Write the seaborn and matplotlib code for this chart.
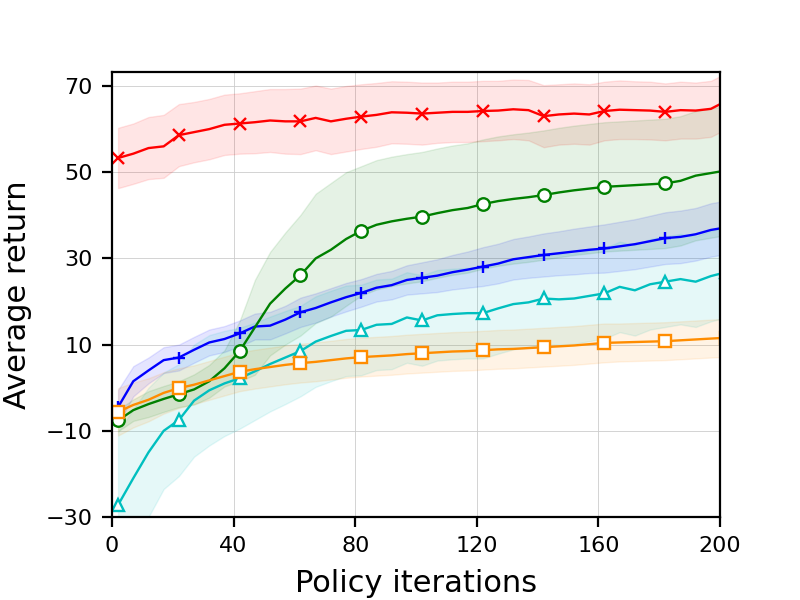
import matplotlib
matplotlib.use("Agg")
import matplotlib.pyplot as plt
import seaborn as sns
import numpy as np
import pandas as pd

# sample positions (policy iterations)
iters = list(range(2, 203, 5))

red_mean = [53.3, 54.3, 55.6, 56.0, 58.6, 59.3, 60.0, 61.0, 61.3, 61.6, 62.0,
            61.8, 61.8, 62.6, 61.8, 62.4, 62.9, 63.3, 63.9, 63.8, 63.6, 63.8,
            64.0, 64.0, 64.2, 64.3, 64.6, 64.4, 63.0, 63.4, 63.6, 63.4, 64.2,
            64.5, 64.4, 64.3, 64.0, 64.4, 64.3, 64.7, 66.5]
red_std = [7.0, 7.0, 7.2, 7.3, 7.2, 7.0, 7.0, 7.0, 7.0, 7.2, 7.3,
           7.5, 7.6, 7.5, 7.6, 7.6, 7.5, 7.4, 7.2, 7.2, 7.2, 7.0,
           7.0, 7.0, 7.0, 6.9, 6.9, 7.0, 7.2, 7.0, 7.0, 7.0, 6.8,
           6.8, 6.7, 6.7, 6.6, 6.6, 6.5, 6.5, 6.5]

green_mean = [-7.6, -5.2, -3.8, -2.6, -1.5, -0.4, 1.5, 4.5, 8.5, 14.0, 19.5,
              23.0, 26.1, 30.0, 32.0, 34.5, 36.4, 37.8, 38.6, 39.2, 39.7, 40.5,
              41.2, 41.7, 42.6, 43.3, 43.8, 44.2, 44.7, 45.3, 45.8, 46.2, 46.6,
              46.8, 47.0, 47.2, 47.4, 48.0, 49.2, 49.8, 50.4]
green_std = [2.5, 2.5, 3.0, 3.0, 3.0, 3.5, 3.8, 4.2, 7.0, 11.0, 12.0,
             13.0, 14.0, 15.0, 15.5, 15.5, 15.0, 15.0, 15.0, 15.0, 15.0, 15.0,
             15.0, 15.0, 15.0, 15.0, 15.0, 15.0, 15.0, 15.0, 15.0, 15.0, 15.0,
             15.0, 15.0, 15.0, 15.0, 15.0, 15.0, 15.0, 15.0]

blue_mean = [-4.5, 1.5, 4.0, 6.4, 7.0, 8.8, 10.5, 11.3, 12.6, 14.2, 14.4,
             15.8, 17.5, 18.5, 19.8, 21.0, 22.0, 23.2, 23.8, 25.0, 25.5, 26.0,
             26.8, 27.4, 28.1, 28.8, 29.8, 30.3, 30.8, 31.2, 31.6, 32.0, 32.3,
             32.8, 33.3, 34.0, 34.7, 35.0, 35.6, 36.6, 37.2]
blue_std = [4.0, 3.5, 3.0, 3.0, 3.0, 3.0, 3.0, 3.0, 3.0, 3.0, 3.2,
            3.2, 3.4, 3.4, 3.3, 3.3, 3.2, 3.2, 3.3, 3.4, 3.6, 3.8,
            4.0, 4.2, 4.5, 4.6, 4.7, 4.8, 5.0, 5.1, 5.3, 5.4, 5.6,
            5.7, 5.8, 5.9, 6.0, 6.1, 6.1, 6.2, 6.2]

cyan_mean = [-27.2, -21.0, -15.0, -10.0, -7.5, -3.0, -0.6, 1.0, 2.2, 3.8, 5.5,
             7.0, 8.5, 10.7, 12.0, 13.2, 13.4, 14.6, 14.8, 16.3, 15.6, 16.8,
             17.1, 17.3, 17.3, 18.4, 19.4, 19.8, 20.7, 20.5, 20.7, 21.3, 21.9,
             23.4, 22.6, 24.0, 24.6, 25.2, 24.6, 25.9, 26.8]
cyan_std = [17.0, 16.0, 15.0, 13.5, 13.0, 13.0, 12.8, 12.2, 11.7, 11.3, 11.0,
            10.8, 10.5, 10.5, 10.5, 10.5, 10.5, 10.5, 10.5, 10.5, 10.5, 10.5,
            10.5, 10.5, 10.5, 10.5, 10.5, 10.5, 10.5, 10.5, 10.5, 10.5, 10.5,
            10.5, 10.5, 10.5, 10.5, 10.5, 10.5, 10.5, 10.5]

orange_mean = [-5.6, -4.0, -2.8, -1.2, -0.1, 0.7, 1.7, 2.7, 3.7, 4.3, 4.8,
               5.3, 5.7, 6.0, 6.4, 6.8, 7.1, 7.3, 7.5, 7.8, 8.0, 8.2,
               8.4, 8.5, 8.7, 8.9, 9.0, 9.2, 9.4, 9.6, 9.8, 10.1, 10.4,
               10.5, 10.6, 10.7, 10.8, 11.0, 11.2, 11.4, 11.6]
orange_std = [5.5, 5.2, 5.0, 4.8, 4.6, 4.5, 4.5, 4.5, 4.5, 4.5, 4.5,
              4.5, 4.5, 4.5, 4.5, 4.5, 4.5, 4.5, 4.5, 4.5, 4.5, 4.5,
              4.5, 4.5, 4.5, 4.5, 4.5, 4.5, 4.5, 4.5, 4.5, 4.5, 4.5,
              4.4, 4.4, 4.4, 4.4, 4.4, 4.4, 4.4, 4.4]

x_ticks = [0, 40, 80, 120, 160, 200]
y_ticks = [-30, -10, 10, 30, 50, 70]

series = [
    ("red", red_mean, red_std, "#ff0000", "x", "#ff0000"),
    ("blue", blue_mean, blue_std, "#0000ff", "+", "#0000ff"),
    ("green", green_mean, green_std, "#008000", "o", "white"),
    ("cyan", cyan_mean, cyan_std, "#00bfbf", "^", "white"),
    ("orange", orange_mean, orange_std, "#ff8c00", "s", "white"),
]

sns.set_theme(style="whitegrid")
plt.rcParams['font.family'] = ['DejaVu Sans']

fig = plt.figure(figsize=(8, 6), dpi=100)
ax = fig.add_axes([0.14, 0.1383, 0.76, 0.7417])

for name, mean, std, col, mk, mfc in series:
    m = np.array(mean)
    s = np.array(std)
    ax.fill_between(iters, m - s, m + s, color=col, alpha=0.1, linewidth=1)
    df = pd.DataFrame({"it": iters, "val": mean})
    sns.lineplot(data=df, x="it", y="val", ax=ax, color=col, linewidth=1.7,
                 marker=mk, markersize=9, markevery=4, markerfacecolor=mfc,
                 markeredgecolor=col, markeredgewidth=1.7)

ax.set_xlim(0, 200)
ax.set_ylim(-30, 73.25)
ax.set_xticks(x_ticks)
ax.set_yticks(y_ticks)
ax.set_yticklabels(["\u221230", "\u221210", "10", "30", "50", "70"])
ax.grid(True, color="#cccccc", linewidth=0.6)
ax.set_axisbelow(True)
for sp in ax.spines.values():
    sp.set_color("black")
    sp.set_linewidth(1.6)
ax.tick_params(axis="both", which="major", direction="out", length=7,
               width=1.6, colors="black", labelsize=16, pad=7,
               bottom=True, left=True)
ax.set_xlabel("Policy iterations", fontsize=22, color="black", labelpad=9)
ax.set_ylabel("Average return", fontsize=22, color="black", labelpad=10)

fig.savefig("out.png", dpi=100, facecolor="white")
